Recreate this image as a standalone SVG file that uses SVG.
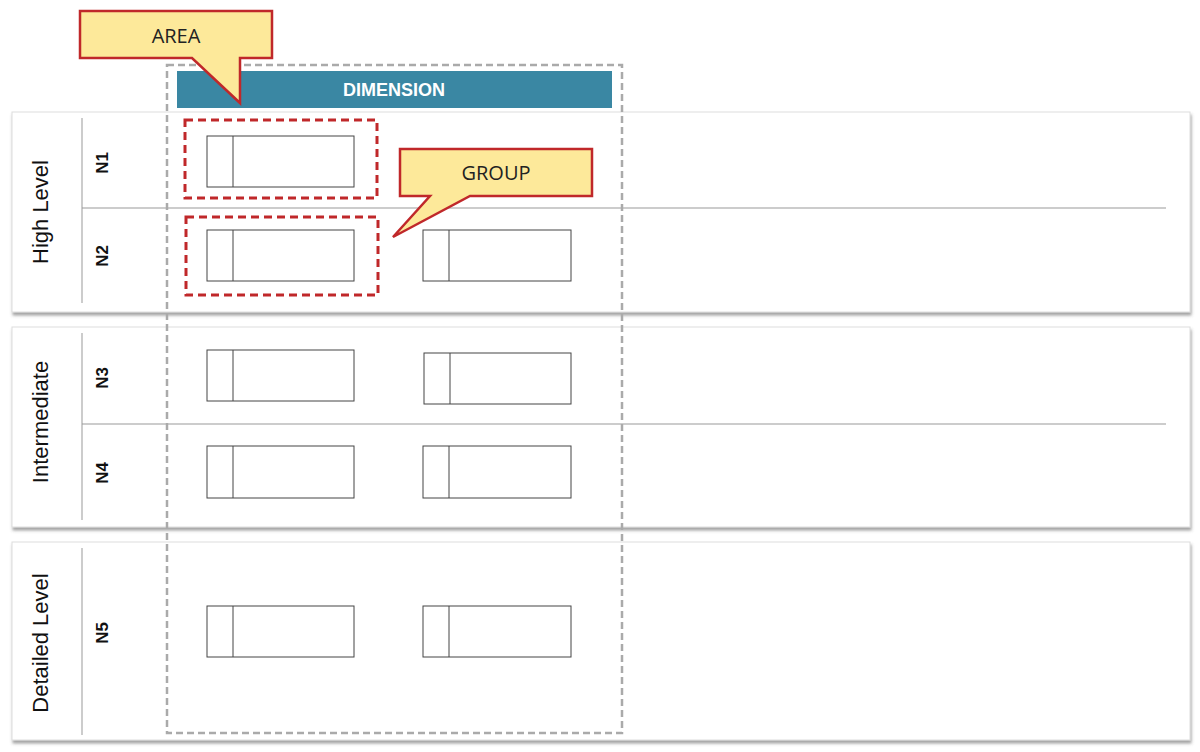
<svg xmlns="http://www.w3.org/2000/svg" width="1200" height="752" viewBox="0 0 1200 752">
<defs>
<filter id="sh" x="-2%" y="-5%" width="104%" height="112%"><feDropShadow dx="1" dy="3" stdDeviation="1.5" flood-color="#666" flood-opacity="0.6"/></filter>
</defs>
<style>
.panel{fill:#fff;stroke:#ddd;stroke-width:1;filter:url(#sh)}
.ln{stroke:#999;stroke-width:1}
.box{fill:#fff;stroke:#444;stroke-width:1}
.row{font-family:"Liberation Sans",Arial,sans-serif;font-weight:bold;font-size:17px;fill:#111}
.lvl{font-family:"Liberation Sans",Arial,sans-serif;font-size:22px;fill:#111}
.call{fill:#fde99a;stroke:#c0282a;stroke-width:2.5}
.ct{font-family:"Open Sans","Liberation Sans",sans-serif;font-size:20px;fill:#222;text-anchor:middle}
.red{fill:none;stroke:#c0282a;stroke-width:3;stroke-dasharray:8,5}
</style>
<rect width="1200" height="752" fill="#fff"/>
<g id="panel-high"><rect class="panel" x="12" y="112" width="1178" height="200"/>
<line class="ln" x1="82" y1="118" x2="82" y2="303"/><line class="ln" x1="82" y1="208" x2="1166" y2="208"/>
<text class="lvl" transform="translate(48,212) rotate(-90)" text-anchor="middle">High Level</text>
<text class="row" transform="translate(108,163) rotate(-90)" text-anchor="middle">N1</text>
<text class="row" transform="translate(108,256) rotate(-90)" text-anchor="middle">N2</text></g>
<g id="panel-int"><rect class="panel" x="12" y="327" width="1178" height="200"/>
<line class="ln" x1="82" y1="333" x2="82" y2="520"/><line class="ln" x1="82" y1="424" x2="1166" y2="424"/>
<text class="lvl" transform="translate(48,422) rotate(-90)" text-anchor="middle">Intermediate</text>
<text class="row" transform="translate(108,378) rotate(-90)" text-anchor="middle">N3</text>
<text class="row" transform="translate(108,473) rotate(-90)" text-anchor="middle">N4</text></g>
<g id="panel-det"><rect class="panel" x="12" y="542" width="1178" height="198"/>
<line class="ln" x1="82" y1="548" x2="82" y2="735"/>
<text class="lvl" transform="translate(48,643) rotate(-90)" text-anchor="middle">Detailed Level</text>
<text class="row" transform="translate(108,633) rotate(-90)" text-anchor="middle">N5</text></g>
<g id="dimension"><rect x="177" y="71" width="435" height="37" fill="#3a87a3"/>
<text x="394" y="96" text-anchor="middle" font-family="Liberation Sans,Arial,sans-serif" font-weight="bold" font-size="18" fill="#fff">DIMENSION</text></g>
<g id="boxes">
<rect class="box" x="207" y="136" width="147" height="51"/><line class="box" x1="233" y1="136" x2="233" y2="187"/>
<rect class="box" x="207" y="230" width="147" height="51"/><line class="box" x1="233" y1="230" x2="233" y2="281"/>
<rect class="box" x="423" y="230" width="148" height="51"/><line class="box" x1="449" y1="230" x2="449" y2="281"/>
<rect class="box" x="207" y="350" width="147" height="51"/><line class="box" x1="233" y1="350" x2="233" y2="401"/>
<rect class="box" x="424" y="353" width="147" height="51"/><line class="box" x1="450" y1="353" x2="450" y2="404"/>
<rect class="box" x="207" y="446" width="147" height="52"/><line class="box" x1="233" y1="446" x2="233" y2="498"/>
<rect class="box" x="423" y="446" width="148" height="52"/><line class="box" x1="449" y1="446" x2="449" y2="498"/>
<rect class="box" x="207" y="606" width="147" height="51"/><line class="box" x1="233" y1="606" x2="233" y2="657"/>
<rect class="box" x="423" y="606" width="148" height="51"/><line class="box" x1="449" y1="606" x2="449" y2="657"/>
</g>
<g id="area-frame"><rect x="167" y="65" width="455" height="668" fill="none" stroke="#aaa" stroke-width="2.5" stroke-dasharray="7,4"/></g>
<g id="groups"><rect class="red" x="185" y="120" width="192" height="78"/><rect class="red" x="186" y="217" width="192" height="78"/></g>
<g id="callout-area"><path class="call" d="M80,11 H272 V58 H240 V103 L192,58 H80 Z"/><text class="ct" x="176" y="43">AREA</text></g>
<g id="callout-group"><path class="call" d="M400,149 H592 V196 H470 L393,237 L430,196 H400 Z"/><text class="ct" x="496" y="180">GROUP</text></g>
</svg>
